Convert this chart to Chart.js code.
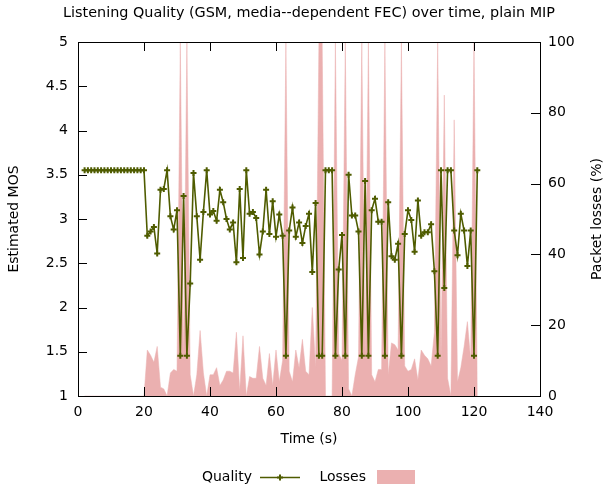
<!DOCTYPE html>
<html><head><meta charset="utf-8">
<script src="https://cdn.jsdelivr.net/npm/chart.js@4.4.1/dist/chart.umd.min.js"></script>
<style>html,body{margin:0;padding:0;background:#fff}#wrap{width:606px;height:488px}</style>
</head><body><div id="wrap"><canvas id="c" width="606" height="488"></canvas></div>
<script>
const chartTitle = 'Listening Quality (GSM, media--dependent FEC) over time, plain MIP';
const xTitle = 'Time (s)';
const yTitle = 'Estimated MOS';
const y2Title = 'Packet losses (%)';
const seriesNames = ['Quality', 'Losses'];

const timeS = [2,3,4,5,6,7,8,9,10,11,12,13,14,15,16,17,18,19,20,
  21,22,23,24,25,26,27,28,29,30,31,32,33,34,35,36,37,38,39,40,
  41,42,43,44,45,46,47,48,49,50,51,52,53,54,55,56,57,58,59,60,
  61,62,63,64,65,66,67,68,69,70,71,72,73,74,75,76,77,78,79,80,
  81,82,83,84,85,86,87,88,89,90,91,92,93,94,95,96,97,98,99,100,
  101,102,103,104,105,106,107,108,109,110,111,112,113,114,115,116,117,118,119,120,121];

const quality = [3.55,3.55,3.55,3.55,3.55,3.55,3.55,3.55,3.55,3.55,3.55,3.55,3.55,3.55,3.55,3.55,3.55,3.55,3.55,
  2.81,2.86,2.91,2.61,3.33,3.34,3.55,3.03,2.88,3.10,
  1.455,3.26,1.455,2.27,3.52,3.03,2.54,3.08,3.55,3.05,
  3.09,2.98,3.33,3.19,3.00,2.88,2.96,2.51,3.34,2.56,
  3.55,3.06,3.08,3.01,2.60,2.86,3.33,2.83,3.20,2.80,
  3.05,2.81,1.455,2.87,3.13,2.80,2.96,2.73,2.92,3.06,
  2.40,3.18,1.455,1.455,3.55,3.55,3.55,1.455,2.43,2.82,
  1.455,3.50,3.04,3.04,2.86,1.455,3.43,1.455,3.10,3.23,
  2.97,2.97,1.455,3.19,2.58,2.54,2.72,1.455,2.83,3.10,
  2.99,2.63,3.21,2.81,2.85,2.85,2.94,2.41,1.455,3.55,
  2.22,3.55,3.55,2.87,2.59,3.06,2.87,2.47,2.87,1.455,
  3.55];

const losses = [0,0,0,0,0,0,0,0,0,0,0,0,0,0,0,0,0,0,0,
  13,11.5,9.5,14,2.5,2,0,6.5,7.5,7,
  100,10,100,6,0,6,18.5,6.5,0,6,
  6,8,3,4.5,7,7,6.5,18,1.5,17,
  0,5.5,5,5,14,5,3,12,3,13,
  4,10,100,7,4,13,8,16,7,6,
  25,8,100,100,0,0,0,100,12,10,
  100,2,0,6,11,100,10,100,6,4,
  7.5,7.5,100,6,15,14.5,13,100,8.5,7,
  7.5,10.5,4.5,13,11.5,10.5,8.5,18,100,10,
  85,5,0,78,4,8,14,21,10,100,
  0];

const qualityColor = '#4f5c00';
const lossColor = 'rgb(235,176,176)';
const FONT = '"DejaVu Sans", sans-serif';
const FS = 14;

const qualityPts = timeS.map((t, i) => ({x: t, y: quality[i]}));
const lossPts = timeS.map((t, i) => ({x: t, y: losses[i]}));

function drawPlus(ctx, x, y, r) {
  ctx.beginPath();
  ctx.moveTo(x - r, y); ctx.lineTo(x + r, y);
  ctx.moveTo(x, y - r); ctx.lineTo(x, y + r);
  ctx.stroke();
}

const decor = {
  id: 'decor',
  afterDraw(chart) {
    const {ctx, chartArea: a, scales} = chart;
    ctx.save();
    ctx.strokeStyle = '#000';
    ctx.lineWidth = 1;
    const TL = 9;
    ctx.beginPath();
    scales.x.ticks.forEach(t => {
      const px = Math.round(scales.x.getPixelForValue(t.value)) + 0.5;
      ctx.moveTo(px, a.bottom); ctx.lineTo(px, a.bottom - TL);
      ctx.moveTo(px, a.top); ctx.lineTo(px, a.top + TL);
    });
    scales.y.ticks.forEach(t => {
      const py = Math.round(scales.y.getPixelForValue(t.value)) + 0.5;
      ctx.moveTo(a.left, py); ctx.lineTo(a.left + TL, py);
    });
    scales.y2.ticks.forEach(t => {
      const py = Math.round(scales.y2.getPixelForValue(t.value)) + 0.5;
      ctx.moveTo(a.right, py); ctx.lineTo(a.right - TL, py);
    });
    ctx.stroke();
    ctx.strokeRect(Math.round(a.left) + 0.5, Math.round(a.top) + 0.5,
      Math.round(a.right - a.left), Math.round(a.bottom - a.top));

    ctx.fillStyle = '#000';
    ctx.textAlign = 'center';
    ctx.textBaseline = 'middle';
    ctx.font = '14.4px ' + FONT;
    ctx.fillText(chartTitle, (a.left + a.right) / 2, 13);

    ctx.font = FS + 'px ' + FONT;
    ctx.save();
    ctx.translate(597, (a.top + a.bottom) / 2);
    ctx.rotate(-Math.PI / 2);
    ctx.fillText(y2Title, 0, 0);
    ctx.restore();

    const ly = 477;
    ctx.textAlign = 'right';
    ctx.fillText(seriesNames[0], 252, ly);
    ctx.strokeStyle = qualityColor;
    ctx.lineWidth = 1.5;
    ctx.beginPath(); ctx.moveTo(260, ly + 0.5); ctx.lineTo(300, ly + 0.5); ctx.stroke();
    ctx.lineWidth = 2;
    drawPlus(ctx, 280, ly + 0.5, 3);
    ctx.fillStyle = '#000';
    ctx.fillText(seriesNames[1], 366, ly);
    ctx.fillStyle = lossColor;
    ctx.fillRect(377, 470, 38, 14);
    ctx.restore();
  }
};

const fmt = v => String(+Number(v).toFixed(2));

new Chart(document.getElementById('c'), {
  type: 'line',
  data: {
    datasets: [
      {
        label: seriesNames[0], data: qualityPts, xAxisID: 'x', yAxisID: 'y',
        borderColor: qualityColor, backgroundColor: qualityColor, borderWidth: 1.6,
        pointStyle: 'cross', pointRadius: 3, pointBorderWidth: 2,
        pointBorderColor: qualityColor, tension: 0, fill: false, order: 0
      },
      {
        label: seriesNames[1], data: lossPts, xAxisID: 'x', yAxisID: 'y2',
        borderColor: lossColor, backgroundColor: lossColor, borderWidth: 0.5,
        pointRadius: 0, tension: 0, fill: 'origin', order: 1
      }
    ]
  },
  options: {
    responsive: false, animation: false, devicePixelRatio: 1,
    layout: {padding: {top: 42, left: 0, right: 0, bottom: 0}},
    plugins: {legend: {display: false}, title: {display: false}, tooltip: {enabled: false}},
    scales: {
      x: {
        type: 'linear', position: 'bottom', min: 0, max: 140,
        ticks: {stepSize: 20, color: '#000', font: {family: FONT, size: FS}, padding: 8, maxRotation: 0, callback: fmt},
        grid: {display: false, drawTicks: false}, border: {display: false},
        title: {display: true, text: xTitle, color: '#000', font: {family: FONT, size: FS}, padding: {top: 0, bottom: 40}},
        afterFit(s) { s.height = 92; }
      },
      y: {
        type: 'linear', position: 'left', min: 1, max: 5,
        ticks: {stepSize: 0.5, color: '#000', font: {family: FONT, size: FS}, padding: 10, callback: fmt},
        grid: {display: false, drawTicks: false}, border: {display: false},
        title: {display: true, text: yTitle, color: '#000', font: {family: FONT, size: FS}, padding: {top: 6, bottom: 0}},
        afterFit(s) { s.width = 78; }
      },
      y2: {
        type: 'linear', position: 'right', min: 0, max: 100,
        ticks: {stepSize: 20, color: '#000', font: {family: FONT, size: FS}, padding: 8, callback: fmt},
        grid: {display: false, drawTicks: false}, border: {display: false},
        afterFit(s) { s.width = 66; }
      }
    }
  },
  plugins: [decor]
});
</script>
</body></html>
